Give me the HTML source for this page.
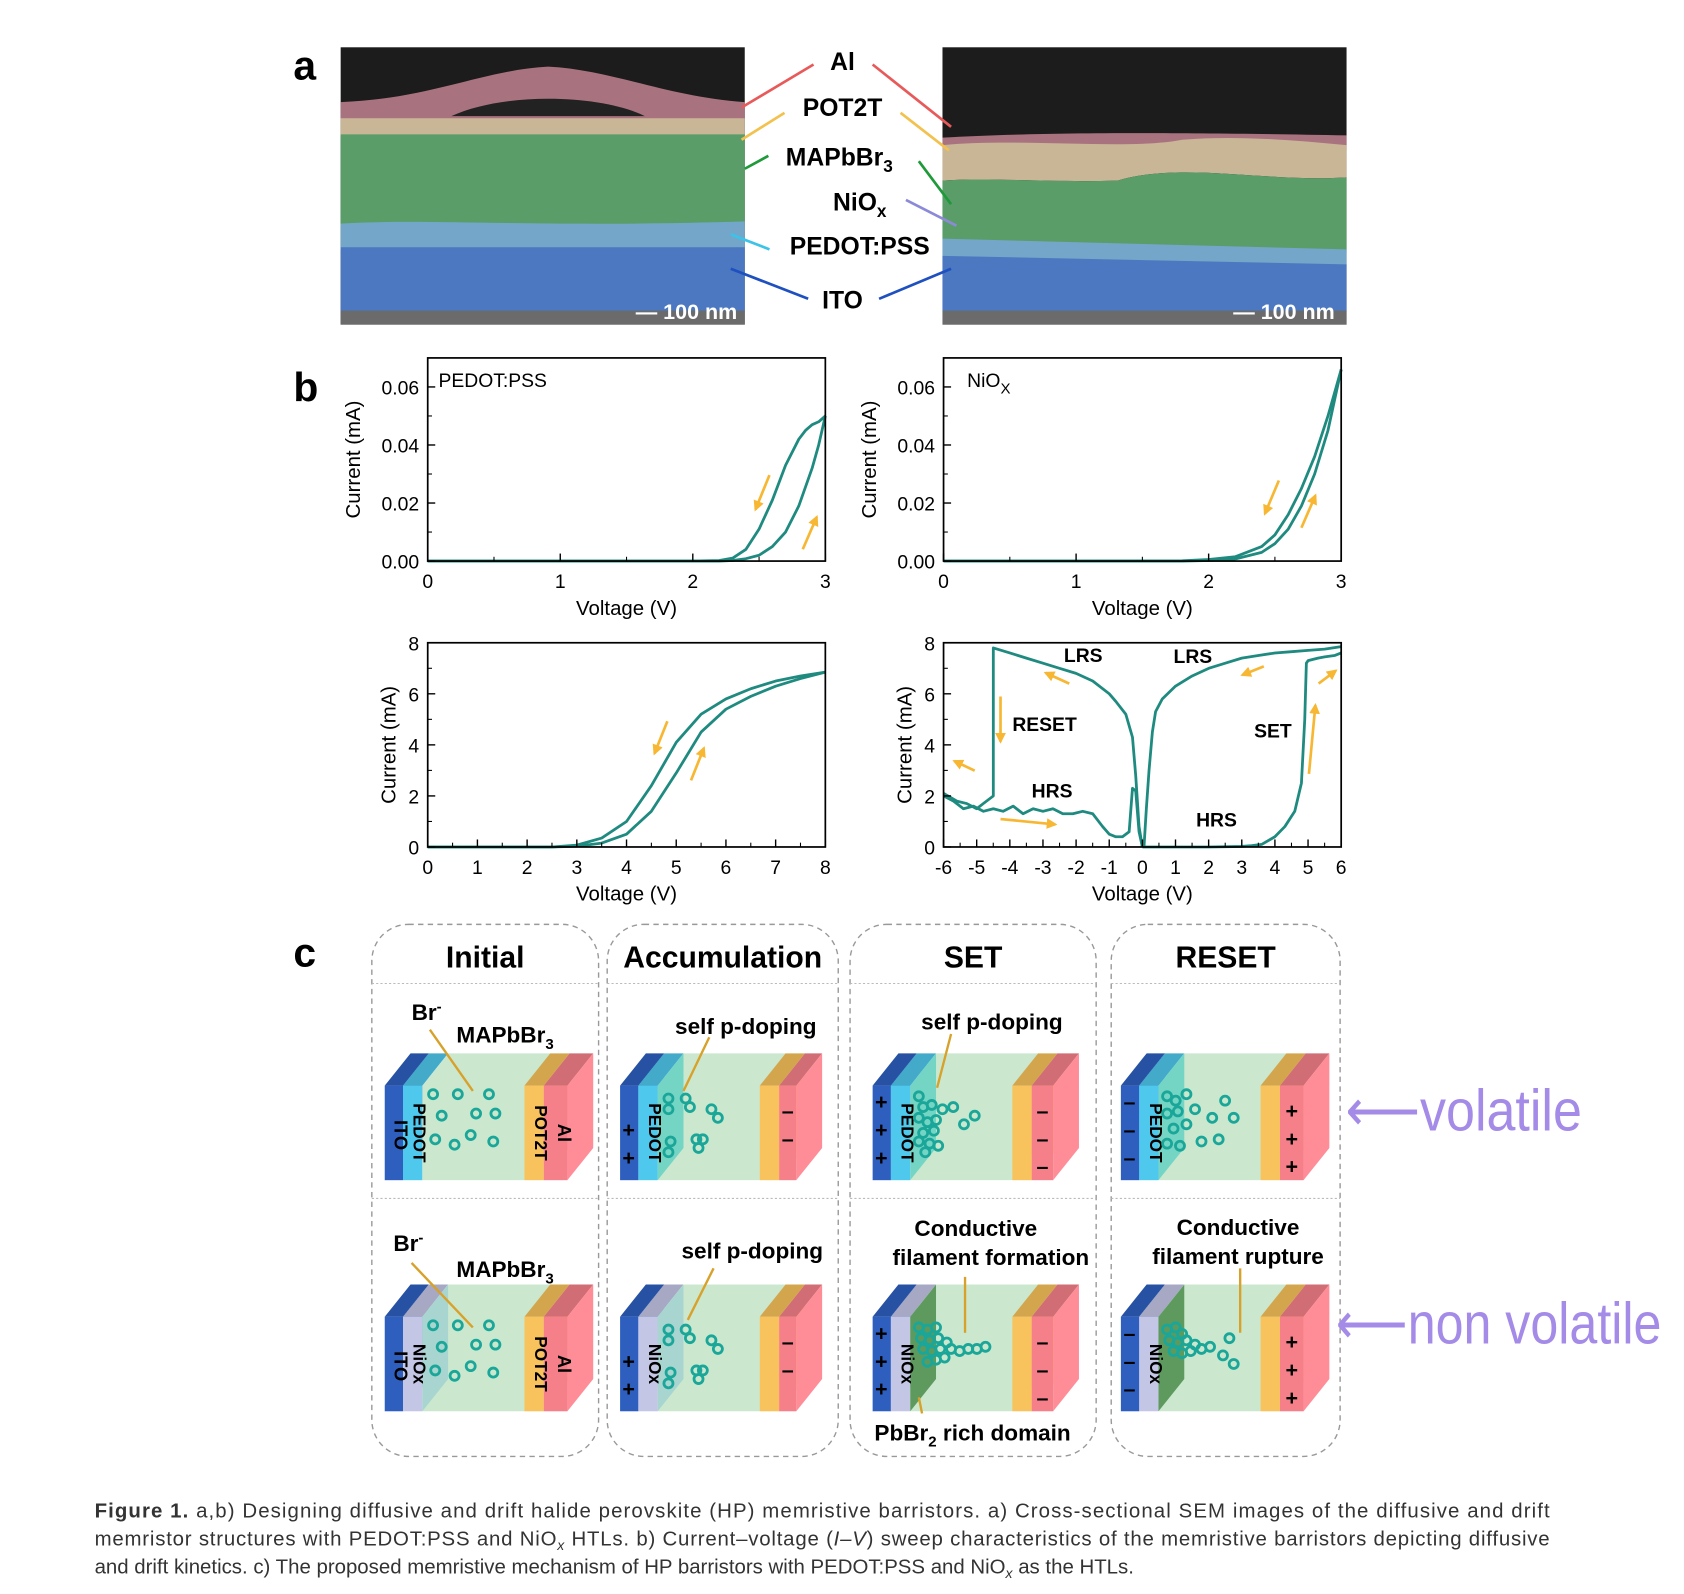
<!DOCTYPE html>
<html><head><meta charset="utf-8"><style>
html,body{margin:0;padding:0;background:#fff;}
svg{display:block;}
text{font-family:"Liberation Sans",Arial,sans-serif;}
</style></head><body>
<svg id="fig" width="1684" height="1594" viewBox="0 0 1567 1483" preserveAspectRatio="none" xmlns="http://www.w3.org/2000/svg">
<defs>
<marker id="ah" viewBox="0 0 10 10" refX="8" refY="5" markerWidth="4" markerHeight="4" orient="auto"><path d="M0,0 L10,5 L0,10 z" fill="#f7b733"/></marker>
</defs>
<rect width="1567" height="1483" fill="#fff"/>

<!-- panel a -->
<g>
<text x="273" y="74" font-size="38" font-weight="bold">a</text>
<g>
<rect x="317" y="44" width="376" height="258" fill="#1c1c1c"/>
<path d="M317,95 C400,92 450,65 510,62 C570,65 620,90 693,95 L693,112 L317,112 z" fill="#a9727f"/>
<path d="M420,108 C470,85 560,88 600,108 z" fill="#222"/>
<rect x="317" y="110" width="376" height="16" fill="#c9b697"/>
<rect x="317" y="125" width="376" height="85" fill="#5a9d68"/>
<path d="M317,208 C400,203 500,212 693,206 L693,232 L317,232 z" fill="#74a6c9"/>
<rect x="317" y="230" width="376" height="60" fill="#4b78c0"/>
<rect x="317" y="289" width="376" height="13" fill="#6b6b6b"/>
<text x="686" y="297" font-size="20" font-weight="bold" fill="#fff" text-anchor="end">— 100 nm</text>
</g>
<g>
<rect x="877" y="44" width="376" height="258" fill="#1c1c1c"/>
<path d="M877,128 C950,124 1050,122 1253,126 L1253,140 L877,140 z" fill="#a9727f"/>
<path d="M877,135 C950,128 1050,140 1100,130 C1150,126 1200,130 1253,135 L1253,165 C1180,170 1100,150 1040,168 C980,170 920,165 877,168 z" fill="#c9b697"/>
<path d="M877,168 C920,165 980,170 1040,168 C1100,150 1180,170 1253,165 L1253,235 L877,225 z" fill="#5a9d68"/>
<path d="M877,222 L1253,232 L1253,248 L877,240 z" fill="#74a6c9"/>
<path d="M877,238 L1253,246 L1253,290 L877,290 z" fill="#4b78c0"/>
<rect x="877" y="289" width="376" height="13" fill="#6b6b6b"/>
<text x="1242" y="297" font-size="20" font-weight="bold" fill="#fff" text-anchor="end">— 100 nm</text>
</g>
<g stroke-width="2.5">
<line x1="757" y1="60" x2="690" y2="100" stroke="#e85a5a"/><line x1="812" y1="60" x2="885" y2="118" stroke="#e85a5a"/>
<line x1="730" y1="105" x2="690" y2="130" stroke="#f2c14e"/><line x1="838" y1="105" x2="883" y2="140" stroke="#f2c14e"/>
<line x1="715" y1="145" x2="693" y2="157" stroke="#1f9a3a"/><line x1="855" y1="150" x2="885" y2="190" stroke="#1f9a3a"/>
<line x1="843" y1="186" x2="890" y2="210" stroke="#8c8ad8"/>
<line x1="716" y1="232" x2="680" y2="218" stroke="#3bc3e8"/>
<line x1="752" y1="278" x2="680" y2="250" stroke="#1f50c0"/><line x1="818" y1="278" x2="885" y2="250" stroke="#1f50c0"/>
</g>
<g font-size="23" font-weight="bold" text-anchor="middle">
<text x="784" y="65">Al</text>
<text x="784" y="108">POT2T</text>
<text x="781" y="154">MAPbBr<tspan font-size="16" dy="6">3</tspan></text>
<text x="800" y="196">NiO<tspan font-size="16" dy="6">x</tspan></text>
<text x="800" y="237">PEDOT:PSS</text>
<text x="784" y="287">ITO</text>
</g>
</g>

<!-- panel b -->
<text x="273" y="373" font-size="38" font-weight="bold">b</text>
<g id="charts"></g>

<!-- panel c -->
<text x="273" y="899" font-size="38" font-weight="bold">c</text>
<g id="panelc"></g>

<text x="1252" y="1052" font-size="54" fill="#a48be8" textLength="220" lengthAdjust="spacingAndGlyphs" font-family="Liberation Sans, sans-serif">⟵volatile</text>
<text x="1243" y="1250" font-size="54" fill="#a48be8" textLength="303" lengthAdjust="spacingAndGlyphs" font-family="Liberation Sans, sans-serif">⟵non volatile</text>

<g font-size="19" fill="#333">
<text x="88" y="1412" textLength="1354" lengthAdjust="spacing"><tspan font-weight="bold">Figure 1.</tspan> a,b) Designing diffusive and drift halide perovskite (HP) memristive barristors. a) Cross-sectional SEM images of the diffusive and drift</text>
<text x="88" y="1438" textLength="1354" lengthAdjust="spacing">memristor structures with PEDOT:PSS and NiO<tspan font-style="italic" font-size="13" dy="4">x</tspan><tspan dy="-4"> HTLs. b) Current–voltage (</tspan><tspan font-style="italic">I–V</tspan>) sweep characteristics of the memristive barristors depicting diffusive</text>
<text x="88" y="1464">and drift kinetics. c) The proposed memristive mechanism of HP barristors with PEDOT:PSS and NiO<tspan font-style="italic" font-size="13" dy="4">x</tspan><tspan dy="-4"> as the HTLs.</tspan></text>
</g>
</svg>
<script>
// ---- chart data ----
const p1FwdV=[0,1,2,2.2,2.3,2.4,2.5,2.6,2.7,2.8,2.9,2.95,3];
const p1FwdI=[0,0,0,0,0.0002,0.0008,0.002,0.005,0.01,0.019,0.032,0.04,0.05];
const p1BwdV=[3,2.95,2.9,2.85,2.8,2.7,2.6,2.5,2.4,2.3,2.2,2,1,0];
const p1BwdI=[0.05,0.048,0.047,0.045,0.042,0.033,0.021,0.011,0.004,0.001,0.0002,0,0,0];
const p2FwdV=[0,1,1.8,2,2.2,2.4,2.5,2.6,2.7,2.8,2.9,3];
const p2FwdI=[0,0,0,0.0002,0.0007,0.003,0.006,0.011,0.019,0.03,0.045,0.066];
const p2BwdV=[3,2.9,2.8,2.7,2.6,2.5,2.4,2.2,2,1.8,1,0];
const p2BwdI=[0.066,0.05,0.036,0.025,0.016,0.009,0.005,0.0015,0.0005,0.0001,0,0];
const p3FwdV=[0,1,2,2.5,3,3.5,4,4.5,5,5.5,6,6.5,7,7.5,8];
const p3FwdI=[0,0,0,0,0.03,0.15,0.5,1.4,2.9,4.5,5.4,5.9,6.3,6.6,6.85];
const p3BwdV=[8,7.5,7,6.5,6,5.5,5,4.5,4,3.5,3,2.5,2,0];
const p3BwdI=[6.85,6.7,6.5,6.2,5.8,5.2,4.1,2.4,1.0,0.35,0.07,0,0,0];
const p4aV=[0,1,2,3,3.3,3.6,4,4.3,4.6,4.8,4.9,4.95,5,5.3,5.5,5.8,6];
const p4aI=[0,0,0,0.02,0.05,0.1,0.4,0.8,1.4,2.5,5,7.2,7.3,7.4,7.45,7.5,7.6];
const p4bV=[6,5.5,5,4.5,4,3.5,3,2.5,2,1.5,1,0.6,0.4,0.3,0.2,0.12,0.05];
const p4bI=[7.85,7.75,7.7,7.65,7.6,7.5,7.4,7.2,7.0,6.7,6.3,5.8,5.3,4.5,3,1.5,0];
const p4cV=[0,-0.1,-0.2,-0.3,-0.5,-0.8,-1,-1.5,-2,-2.5,-3,-3.5,-4,-4.5,-4.5,-4.8,-5,-5.3,-5.6,-6];
const p4cI=[0,0.8,2.8,4.3,5.2,5.7,6.0,6.5,6.8,7.0,7.2,7.4,7.6,7.8,2.0,1.7,1.5,1.7,1.8,2.1];
const p4dV=[-6,-5.7,-5.4,-5.1,-4.8,-4.5,-4.2,-3.9,-3.6,-3.3,-3,-2.7,-2.4,-2.1,-1.8,-1.5,-1.2,-1,-0.8,-0.6,-0.4,-0.3,-0.2,-0.1,0];
const p4dI=[2.0,1.8,1.5,1.6,1.4,1.5,1.4,1.6,1.3,1.5,1.4,1.5,1.3,1.3,1.4,1.3,0.8,0.5,0.4,0.4,0.6,2.3,2.2,0.6,0];
const p1YTicks=["0.00","0.02","0.04","0.06"];
const p3YTicks=["0","2","4","6","8"];

const NS="http://www.w3.org/2000/svg";
function mk(tag,attrs,parent,txt){const e=document.createElementNS(NS,tag);for(const k in attrs)e.setAttribute(k,attrs[k]);if(txt!==undefined)e.textContent=txt;parent.appendChild(e);return e;}
const charts=document.getElementById('charts');
const TEAL="#1f8a7f";

function chart(o){
  const g=mk('g',{},charts);
  
  
  const X=v=>o.x0+(v-o.xmin)/(o.xmax-o.xmin)*o.w;
  const Y=v=>o.y0+o.h-(v-o.ymin)/(o.ymax-o.ymin)*o.h;
  o.series.forEach((s,i)=>{
    const d=s[0].map((v,j)=>(j?'L':'M')+X(v).toFixed(1)+','+Y(s[1][j]).toFixed(1)).join(' ');
    const p=mk('path',{d:d,fill:'none',stroke:TEAL,'stroke-width':2.6,'stroke-linejoin':'round'},g);
    
    
  });
  const fr=mk('rect',{x:o.x0,y:o.y0,width:o.w,height:o.h,fill:'none',stroke:'#000','stroke-width':1.6},g);
  
  
  o.xticks.forEach(t=>{
    mk('line',{x1:X(t),x2:X(t),y1:o.y0+o.h,y2:o.y0+o.h-7,stroke:'#000','stroke-width':1.3},g);
    const tl=mk('text',{x:X(t),y:o.y0+o.h+25,'font-size':18,'text-anchor':'middle'},g,String(t));
    
    
  });
  o.xminor.forEach(t=>mk('line',{x1:X(t),x2:X(t),y1:o.y0+o.h,y2:o.y0+o.h-4,stroke:'#000','stroke-width':1},g));
  o.ylabels.forEach(lbl=>{
    const v=parseFloat(lbl);
    mk('line',{x1:o.x0,x2:o.x0+7,y1:Y(v),y2:Y(v),stroke:'#000','stroke-width':1.3},g);
    const tl=mk('text',{x:o.x0-8,y:Y(v)+7,'font-size':18,'text-anchor':'end'},g,lbl);
    
    
  });
  o.yminor.forEach(v=>mk('line',{x1:o.x0,x2:o.x0+4,y1:Y(v),y2:Y(v),stroke:'#000','stroke-width':1},g));
  const xt=mk('text',{x:o.x0+o.w/2,y:o.y0+o.h+50,'font-size':19,'text-anchor':'middle'},g,'Voltage (V)');
  
  
  const yt=mk('text',{x:0,y:0,'font-size':19,'text-anchor':'middle',transform:`translate(${o.ytx},${o.y0+o.h/2}) rotate(-90)`},g,'Current (mA)');
  
  
  return {g,X,Y};
}
function arrow(g,x1,y1,x2,y2){const a=mk('line',{x1,y1,x2,y2,stroke:'#f7b733','stroke-width':2.5,'marker-end':'url(#ah)'},g);}
function lbl(g,x,y,t,name,bold){const e=mk('text',{x,y,'font-size':18,'font-weight':bold?'bold':'normal'},g,t);return e;}

const c1=chart({name:'chart-pedot-small',x0:398,y0:333,w:370,h:189,xmin:0,xmax:3,ymin:0,ymax:0.07,
 series:[[p1FwdV,p1FwdI],[p1BwdV,p1BwdI]],xticks:[0,1,2,3],xminor:[0.5,1.5,2.5],ylabels:p1YTicks,yminor:[0.01,0.03,0.05],ytx:335});
lbl(c1.g,408,360,'PEDOT:PSS','legend-pedot');
arrow(c1.g,716,442,703,474);arrow(c1.g,747,511,760,481);
const c2=chart({name:'chart-niox-small',x0:878,y0:333,w:370,h:189,xmin:0,xmax:3,ymin:0,ymax:0.07,
 series:[[p2FwdV,p2FwdI],[p2BwdV,p2BwdI]],xticks:[0,1,2,3],xminor:[0.5,1.5,2.5],ylabels:p1YTicks,yminor:[0.01,0.03,0.05],ytx:815});
const nl=lbl(c2.g,900,360,'NiO','legend-niox');mk('tspan',{'font-size':14,dy:6},nl,'X');
arrow(c2.g,1190,447,1177,478);arrow(c2.g,1211,491,1224,461);
const c3=chart({name:'chart-pedot-large',x0:398,y0:598,w:370,h:190,xmin:0,xmax:8,ymin:0,ymax:8,
 series:[[p3FwdV,p3FwdI],[p3BwdV,p3BwdI]],xticks:[0,1,2,3,4,5,6,7,8],xminor:[0.5,1.5,2.5,3.5,4.5,5.5,6.5,7.5],ylabels:p3YTicks,yminor:[1,3,5,7],ytx:368});
arrow(c3.g,621,671,609,701);arrow(c3.g,643,726,655,696);
const c4=chart({name:'chart-niox-large',x0:878,y0:598,w:370,h:190,xmin:-6,xmax:6,ymin:0,ymax:8,
 series:[[p4aV,p4aI],[p4bV,p4bI],[p4cV,p4cI],[p4dV,p4dI]],xticks:[-6,-5,-4,-3,-2,-1,0,1,2,3,4,5,6],xminor:[-5.5,-4.5,-3.5,-2.5,-1.5,-0.5,0.5,1.5,2.5,3.5,4.5,5.5],ylabels:p3YTicks,yminor:[1,3,5,7],ytx:848});
lbl(c4.g,990,616,'LRS','label-lrs-neg',true);lbl(c4.g,1092,617,'LRS','label-lrs-pos',true);
lbl(c4.g,942,680,'RESET','label-reset',true);lbl(c4.g,1167,686,'SET','label-set',true);
lbl(c4.g,960,742,'HRS','label-hrs-neg',true);lbl(c4.g,1113,769,'HRS','label-hrs-pos',true);
arrow(c4.g,931,648,931,690);arrow(c4.g,995,636,973,626);arrow(c4.g,1176,620,1156,628);
arrow(c4.g,1218,720,1224,656);arrow(c4.g,1227,636,1243,624);arrow(c4.g,907,717,888,708);
arrow(c4.g,931,762,982,767);

// ---- panel c ----
const pc=document.getElementById('panelc');
const cols=[[346,557,'Initial'],[565,780,'Accumulation'],[791,1020,'SET'],[1034,1247,'RESET']];
cols.forEach(c=>{
  const r=mk('rect',{x:c[0],y:860,width:c[1]-c[0],height:495,rx:34,fill:'none',stroke:'#999','stroke-width':1.3,'stroke-dasharray':'5,4'},pc);
  
  
  mk('line',{x1:c[0],x2:c[1],y1:915,y2:915,stroke:'#bbb','stroke-width':1,'stroke-dasharray':'2,2'},pc);
  mk('line',{x1:c[0],x2:c[1],y1:1115,y2:1115,stroke:'#bbb','stroke-width':1,'stroke-dasharray':'2,2'},pc);
  const h=mk('text',{x:(c[0]+c[1])/2,y:900,'font-size':28,'font-weight':'bold','text-anchor':'middle'},pc,c[2]);
  
  
});
const DX=24,DY=-30;
function shade(hex,f){const n=parseInt(hex.slice(1),16);let r=n>>16,g=(n>>8)&255,b=n&255;r=Math.round(r*f);g=Math.round(g*f);b=Math.round(b*f);return `rgb(${Math.min(255,r)},${Math.min(255,g)},${Math.min(255,b)})`;}
function slab(g,x,y,w,h,col,op){
  op=op||1;
  mk('polygon',{points:`${x},${y} ${x+DX},${y+DY} ${x+w+DX},${y+DY} ${x+w},${y}`,fill:shade(col,0.85),opacity:op},g);
  mk('polygon',{points:`${x+w},${y} ${x+w+DX},${y+DY} ${x+w+DX},${y+h+DY} ${x+w},${y+h}`,fill:shade(col,1.1),opacity:op},g);
  mk('rect',{x,y,width:w,height:h,fill:col,opacity:op},g);
}
function vtext(g,x,y,t,size){mk('text',{x:0,y:0,'font-size':size||17,'font-weight':'bold','text-anchor':'middle',transform:`translate(${x},${y}) rotate(90)`},g,t);}
function dots(g,pts){pts.forEach(p=>mk('circle',{cx:p[0],cy:p[1],r:4.2,fill:'none',stroke:'#1aa698','stroke-width':2.6},g));}
function device(bx,by,hole,opt){
  const g=mk('g',{},pc);
  
  
  const H=88;
  slab(g,bx,by,17,H,'#2e5fbf');
  slab(g,bx+17,by,18,H,hole==='pedot'?'#4fc8ee':'#c4c6e6');
  const gx=bx+35, gw=opt.gw;
  mk('polygon',{points:`${gx},${by} ${gx+DX},${by+DY} ${gx+gw+DX},${by+DY} ${gx+gw+DX},${by+H+DY} ${gx+gw},${by+H} ${gx},${by+H}`,fill:'#cbe8cf'},g);
  if(opt.shadeLeft) mk('polygon',{points:`${gx},${by} ${gx+DX},${by+DY} ${gx+DX},${by+H+DY} ${gx},${by+H}`,fill:hole==='pedot'?'#5fcfc2':'#9fcfcf',opacity:0.8},g);
  if(opt.pbbr) mk('polygon',{points:`${gx},${by} ${gx+DX},${by+DY} ${gx+DX},${by+H+DY} ${gx},${by+H}`,fill:'#5e9a5e'},g);
  const px=gx+gw;
  slab(g,px,by,18,H,'#f8c35c');
  slab(g,px+18,by,opt.alw,H,'#f6808a');
  vtext(g,bx+9,by+H/2+2,opt.itoText||'',17);
  vtext(g,bx+27,by+H/2,hole==='pedot'?'PEDOT':'NiOx',16);
  if(opt.labels){vtext(g,px+10,by+H/2,'POT2T',16);vtext(g,px+18+opt.alw/2+2,by+H/2,'Al',17);}
  if(opt.signsL) opt.signsL.forEach((s,i)=>mk('text',{x:bx+8,y:by+22+i*26,'font-size':20,'font-weight':'bold','text-anchor':'middle'},g,s));
  if(opt.signsR) opt.signsR.forEach((s,i)=>mk('text',{x:px+18+opt.alw/2,y:by+30+i*26,'font-size':20,'font-weight':'bold','text-anchor':'middle'},g,s));
  dots(g,opt.dots.map(d=>[gx+d[0],by+d[1]]));
  return g;
}
const dInit=[[10,8],[33,8],[62,8],[18,28],[50,26],[68,26],[12,50],[45,46],[66,52],[30,55]];
const dAcc=[[10,12],[10,22],[26,12],[30,20],[50,22],[56,30],[12,52],[10,62],[36,50],[42,50],[38,58]];
const dSet=[[8,10],[12,20],[20,18],[30,22],[8,30],[16,34],[24,32],[12,44],[22,42],[8,52],[18,54],[26,56],[14,62],[40,20],[50,36],[60,28]];
const dReset=[[8,10],[16,14],[26,8],[8,26],[18,24],[34,22],[14,40],[26,36],[50,30],[62,14],[70,30],[20,56],[40,52],[56,50],[8,54]];
const dFil=[[8,10],[16,12],[24,10],[10,20],[18,22],[26,20],[34,24],[12,30],[20,32],[28,30],[38,30],[46,32],[54,30],[62,30],[70,28],[16,42],[24,40],[32,38]];
const dRup=[[8,12],[16,10],[22,16],[10,22],[18,24],[26,22],[34,26],[14,32],[22,34],[30,32],[40,30],[48,28],[60,36],[66,20],[70,44]];
device(358,1010,'pedot',{gw:95,alw:22,labels:true,itoText:'ITO',dots:dInit});
device(358,1225,'niox',{gw:95,alw:22,labels:true,itoText:'ITO',shadeLeft:true,dots:dInit});
device(577,1010,'pedot',{gw:95,alw:16,shadeLeft:true,signsL:['','+','+'],signsR:['–','–'],dots:dAcc});
device(577,1225,'niox',{gw:95,alw:16,shadeLeft:true,signsL:['','+','+'],signsR:['–','–'],dots:dAcc});
device(812,1010,'pedot',{gw:95,alw:20,shadeLeft:true,signsL:['+','+','+'],signsR:['–','–','–'],dots:dSet});
device(812,1225,'niox',{gw:95,alw:20,pbbr:true,signsL:['+','+','+'],signsR:['–','–','–'],dots:dFil});
device(1043,1010,'pedot',{gw:95,alw:22,shadeLeft:true,signsL:['–','–','–'],signsR:['+','+','+'],dots:dReset});
device(1043,1225,'niox',{gw:95,alw:22,pbbr:true,signsL:['–','–','–'],signsR:['+','+','+'],dots:dRup});
function clbl(x,y,t,name,anchor){const e=mk('text',{x,y,'font-size':21,'font-weight':'bold','text-anchor':anchor||'middle'},pc,t);return e;}
function sub(e,t){mk('tspan',{'font-size':14,dy:6},e,t);}
const b1=clbl(383,949,'Br','label-br-top','start');mk('tspan',{'font-size':14,dy:-8},b1,'-');
sub(clbl(470,970,'MAPbBr','label-mapbbr3-top'),'3');
clbl(694,962,'self p-doping','label-self-pdoping-1');clbl(923,958,'self p-doping','label-self-pdoping-2');
const b2=clbl(366,1164,'Br','label-br-bottom','start');mk('tspan',{'font-size':14,dy:-8},b2,'-');
sub(clbl(470,1188,'MAPbBr','label-mapbbr3-bottom'),'3');
clbl(700,1171,'self p-doping','label-self-pdoping-3');
clbl(908,1150,'Conductive','label-conductive-1');clbl(922,1177,'filament formation','label-filament-formation');
const pb=clbl(905,1340,'PbBr','label-pbbr2');sub(pb,'2');mk('tspan',{dy:-6},pb,' rich domain');
clbl(1152,1149,'Conductive','label-conductive-2');clbl(1152,1176,'filament rupture','label-filament-rupture');
[[400,958,440,1015],[660,965,636,1015],[885,962,872,1012],[383,1175,440,1235],[664,1180,640,1228],[898,1188,898,1240],[1154,1180,1154,1240],[855,1300,858,1315]].forEach(l=>{
 const e=mk('line',{x1:l[0],y1:l[1],x2:l[2],y2:l[3],stroke:'#d7a12a','stroke-width':2.2},pc);
 
 
});
</script>
</body></html>
